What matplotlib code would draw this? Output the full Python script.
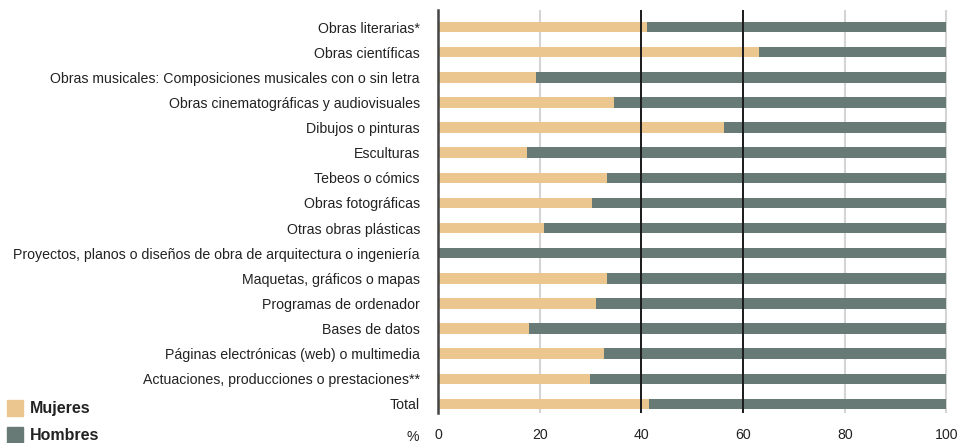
import matplotlib
matplotlib.use("Agg")
import matplotlib.pyplot as plt
from matplotlib.patches import Rectangle

plt.rcParams['font.family'] = ['Liberation Sans', 'DejaVu Sans']

categories = [
    "Obras literarias*",
    "Obras científicas",
    "Obras musicales: Composiciones musicales con o sin letra",
    "Obras cinematográficas y audiovisuales",
    "Dibujos o pinturas",
    "Esculturas",
    "Tebeos o cómics",
    "Obras fotográficas",
    "Otras obras plásticas",
    "Proyectos, planos o diseños de obra de arquitectura o ingeniería",
    "Maquetas, gráficos o mapas",
    "Programas de ordenador",
    "Bases de datos",
    "Páginas electrónicas (web) o multimedia",
    "Actuaciones, producciones o prestaciones**",
    "Total",
]
mujeres = [41.2, 63.1, 19.2, 34.7, 56.3, 17.5, 33.2, 30.3, 20.8, 0.0,
           33.2, 31.1, 17.8, 32.6, 29.8, 41.4]
hombres = [100 - m for m in mujeres]
xticks = [0, 20, 40, 60, 80, 100]

c_muj = "#EBC78F"
c_hom = "#677A75"

W, H = 960, 443
fig = plt.figure(figsize=(W / 100, H / 100), dpi=100)
ax = fig.add_axes([438 / W, 1 - 413 / H, (948 - 438) / W, (413 - 10) / H])

y = list(range(len(categories)))
ax.barh(y, mujeres, height=0.42, color=c_muj, zorder=2)
ax.barh(y, hombres, left=mujeres, height=0.42, color=c_hom, zorder=2)

ax.set_xlim(0, 100.3)
ax.set_ylim(15.36, -0.68)
ax.set_yticks(y)
ax.set_yticklabels(categories, fontsize=10.2, color="#222222")
ax.tick_params(axis='y', length=0, pad=13)
ax.set_xticks(xticks)
ax.set_xticklabels([str(t) for t in xticks], fontsize=10.2, color="#222222")
ax.tick_params(axis='x', length=0, pad=11)

for s in ['top', 'right', 'bottom']:
    ax.spines[s].set_visible(False)
ax.spines['left'].set_color("#444444")
ax.spines['left'].set_linewidth(1.8)
ax.spines['left'].set_zorder(4)

for t in [20, 80, 100]:
    ax.axvline(t, color="#d4d4d4", lw=1.5, zorder=1)
for t in [40, 60]:
    ax.axvline(t, color="#1a1a1a", lw=1.4, zorder=3)

fig.text(413 / W, 1 - 437 / H, "%", fontsize=10.2, color="#222222",
         ha='center', va='center')

# legend
for yy, lab, col in [(408, "Mujeres", c_muj), (435, "Hombres", c_hom)]:
    fig.patches.append(Rectangle((7 / W, 1 - (yy + 8) / H), 16 / W, 16 / H,
                                 transform=fig.transFigure, color=col))
    fig.text(30 / W, 1 - yy / H, lab, fontsize=11.5, fontweight='bold',
             color="#222222", ha='left', va='center')

fig.savefig("out.png", dpi=100)
